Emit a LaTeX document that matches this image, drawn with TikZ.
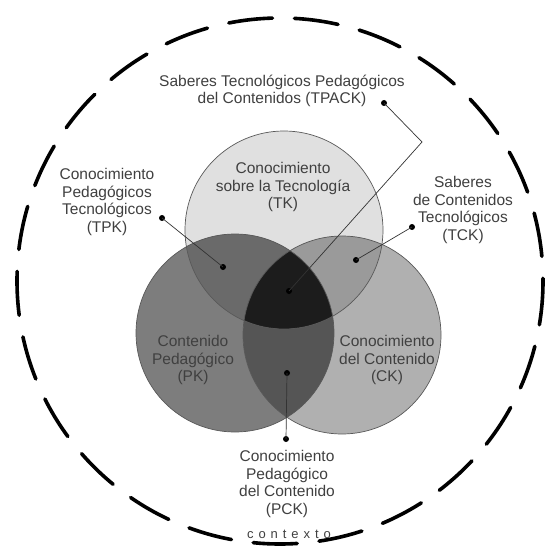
\documentclass[tikz,border=0pt]{standalone}
\usepackage{fontspec}
\setmainfont{Liberation Sans}
\usepackage{tikz}
\usepackage{xcolor}
\usetikzlibrary{positioning}

\definecolor{tkgray}{HTML}{E0E0E0}
\definecolor{pkgray}{HTML}{7D7D7D}
\definecolor{ckgray}{HTML}{B0B0B0}
\definecolor{tpkgray}{HTML}{6A6A6A}
\definecolor{tckgray}{HTML}{9A9A9A}
\definecolor{pckgray}{HTML}{555555}
\definecolor{tpackgray}{HTML}{1C1C1C}
\definecolor{txtgray}{HTML}{404040}

\tikzset{
  lbl/.style={align=center, text=txtgray, inner sep=0pt, font=\fontsize{15.5}{17.5}\selectfont},
  dot/.style={circle, fill=black, inner sep=0pt, minimum size=6pt},
  lead/.style={draw=black!80, line width=0.7pt},
  rim/.style={draw=black!65, line width=0.7pt}
}

\begin{document}
\begin{tikzpicture}[x=1pt, y=-1pt]
            \useasboundingbox (0, 0) rectangle (544, 548);
            \fill[white] (0, 0) rectangle (544, 548);

            \coordinate (tk) at (284, 230);
            \coordinate (pk) at (235, 333);
            \coordinate (ck) at (342, 335);

            % context
            \draw[line width=3.6pt, dash pattern=on 44pt off 22pt, line cap=round] (280, 281) circle (263);

            % circles
            \fill[tkgray] (tk) circle (99);
            \fill[pkgray] (pk) circle (99);
            \fill[ckgray] (ck) circle (99);
            \begin{scope}
                \clip (pk) circle (99);
                \fill[pckgray] (ck) circle (99);
            \end{scope}
            \begin{scope}
                \clip (tk) circle (99);
                \fill[tpkgray] (pk) circle (99);
                \fill[tckgray] (ck) circle (99);
                \clip (pk) circle (99);
                \fill[tpackgray] (ck) circle (99);
            \end{scope}
            \draw[rim] (tk) circle (99);
            \draw[rim] (pk) circle (99);
            \draw[rim] (ck) circle (99);

            % texts
            \node[lbl] (tklbl) at (283, 187) {Conocimiento\\sobre la Tecnología\\(TK)};
            \node[lbl] (pklbl) at (193, 360) {Contenido\\Pedagógico\\(PK)};
            \node[lbl] (cklbl) at (387, 360) {Conocimiento\\del Contenido\\(CK)};
            \node[lbl] (tpack) at (282, 91) {Saberes Tecnológicos Pedagógicos\\del Contenidos (TPACK)};
            \node[lbl] (tpk) at (107, 202) {Conocimiento\\Pedagógicos\\Tecnológicos\\(TPK)};
            \node[lbl] (tck) at (463, 210) {Saberes\\de Contenidos\\Tecnológicos\\(TCK)};
            \node[lbl] (pck) at (287, 484) {Conocimiento\\Pedagógico\\del Contenido\\(PCK)};
            \node[lbl, font=\fontsize{13}{15}\selectfont\addfontfeatures{LetterSpace=38}] (ctx) at (289, 534) {contexto};

            % dots
            \node[dot] (tpackend) at (384, 103) {};
            \node[dot] (tpackin) at (289, 291) {};
            \node[dot] (tpkend) at (162, 218) {};
            \node[dot] (tpkin) at (223, 267) {};
            \node[dot] (tckend) at (412, 227) {};
            \node[dot] (tckin) at (356, 260) {};
            \node[dot] (pckin) at (287, 373) {};
            \node[dot] (pckend) at (286, 439) {};
            \coordinate (bend) at (422, 142);

            \draw[lead] (tpackend.center) -- (bend) -- (tpackin.center);
            \draw[lead] (tpkend.center) -- (tpkin.center);
            \draw[lead] (tckend.center) -- (tckin.center);
            \draw[lead] (pckin.center) -- (pckend.center);
\end{tikzpicture}
\end{document}
